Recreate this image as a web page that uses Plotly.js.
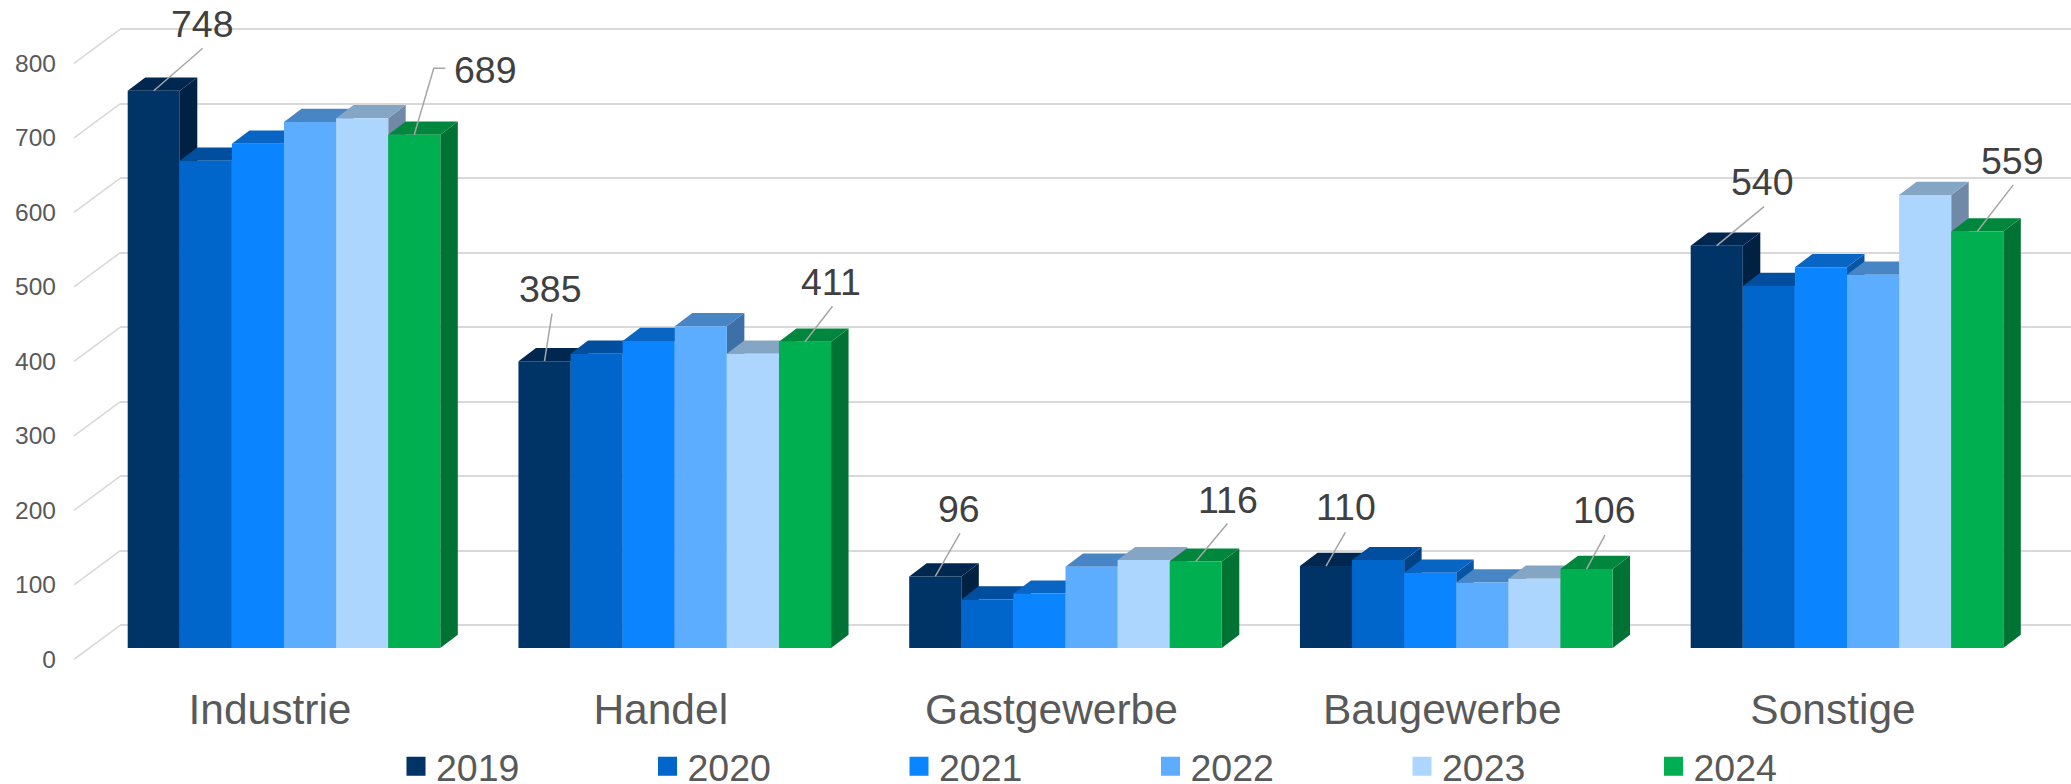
<!DOCTYPE html>
<html>
<head>
<meta charset="utf-8">
<script src="https://cdn.plot.ly/plotly-3.0.1.min.js"></script>
<style>html,body{margin:0;padding:0;background:#fff;overflow:hidden}</style>
</head>
<body>
<div id="chart" style="width:2071px;height:784px"></div>
<script>
// ---- data ----
const categories = ['Industrie', 'Handel', 'Gastgewerbe', 'Baugewerbe', 'Sonstige'];
const years = ['2019', '2020', '2021', '2022', '2023', '2024'];
const v2019 = [748, 385, 96, 110, 540];
const v2020 = [654, 395, 65, 118, 486];
const v2021 = [677, 412, 73, 101, 511];
const v2022 = [706, 432, 109, 88, 501];
const v2023 = [711, 395, 118, 93, 608];
const v2024 = [689, 411, 116, 106, 559];
const yTicks = [0, 100, 200, 300, 400, 500, 600, 700, 800];

// ---- colours per year ----
const frontColors = ['#003366', '#0066CC', '#0A84FF', '#5CADFF', '#ADD6FF', '#00B050'];
const topColors   = ['#002750', '#004E9D', '#0865C4', '#4785C4', '#85A5C4', '#00873D'];
const sideColors  = ['#002142', '#004285', '#0755A5', '#3C70A6', '#7089A6', '#007234'];
const gridColor = '#D9D9D9', textColor = '#595959', labelColor = '#404040', leaderColor = '#A6A6A6';
const fontFamily = '"Liberation Sans", Arial, sans-serif';

// ---- geometry of the pseudo-3D scene ----
const W = 2071, H = 784;
const pxPerUnit = 0.745, pxPerCat = 390.75;
const wallX = 120, floorX = 74;
const baseY = 648, wallBaseY = 625.3;
const firstCenterX = 284;
const depthPxX = 17.5, depthPxY = 13.2;
const depthX = depthPxX / pxPerCat, depthY = depthPxY / pxPerUnit;
const floorDy = 34 / pxPerUnit;
const barW = 0.8 / years.length;

const series = [v2019, v2020, v2021, v2022, v2023, v2024];

// data labels: [category index, year index, leader points (px offset from the bar top), text centre (px offset)]
const dataLabels = [
  [0, 0, [[49, 42.5]], [49, 67]],
  [0, 5, [[19.5, 66.5], [31, 66.5]], [71, 65]],
  [1, 0, [[7.5, 47.5]], [6, 72]],
  [1, 5, [[27.5, 35.5]], [26, 59.5]],
  [2, 0, [[24.7, 43]], [24, 67]],
  [2, 5, [[31.7, 38]], [32, 62]],
  [3, 0, [[19.3, 33.7]], [19.5, 58.7]],
  [3, 5, [[18.5, 34]], [17.5, 59]],
  [4, 0, [[47.3, 39]], [46, 63.4]],
  [4, 5, [[36, 46.7]], [35, 71]]
];

const xRange = [(wallX - firstCenterX) / pxPerCat, (W - firstCenterX) / pxPerCat];
const barRange = [(baseY - H) / pxPerUnit, baseY / pxPerUnit];
const gridRange = [(wallBaseY - H) / pxPerUnit, wallBaseY / pxPerUnit];

const traces = [];
years.forEach((yr, s) => {
  traces.push({
    type: 'bar', name: yr, x: categories, y: series[s],
    marker: {color: frontColors[s], line: {width: 0}},
    showlegend: false, hoverinfo: 'x+y+name'
  });
});
// legend entries with square keys
years.forEach((yr, s) => {
  traces.push({
    type: 'scatter', mode: 'markers', name: yr, x: [null], y: [null],
    marker: {symbol: 'square', size: 16, color: frontColors[s], line: {color: frontColors[s], width: 3}},
    showlegend: true, hoverinfo: 'skip'
  });
});

const shapes = [];
// wall-to-floor diagonals
yTicks.forEach(v => {
  shapes.push({
    type: 'line', layer: 'below', xref: 'paper', yref: 'y2',
    x0: floorX / W, x1: wallX / W, y0: v - floorDy, y1: v,
    line: {color: gridColor, width: 1.6}
  });
});
// depth faces, painted left to right behind the front plane
categories.forEach((c, i) => {
  years.forEach((yr, s) => {
    const x0 = i + (s - 3) * barW, x1 = x0 + barW, t = series[s][i];
    shapes.push({
      type: 'path', layer: 'between', xref: 'x', yref: 'y',
      path: `M${x1},0L${x1 + depthX},${depthY}L${x1 + depthX},${t + depthY}L${x1},${t}Z`,
      fillcolor: sideColors[s], line: {width: 0}
    });
    shapes.push({
      type: 'path', layer: 'between', xref: 'x', yref: 'y',
      path: `M${x0},${t}L${x0 + depthX},${t + depthY}L${x1 + depthX},${t + depthY}L${x1},${t}Z`,
      fillcolor: topColors[s], line: {width: 0}
    });
  });
});

// data labels with leader lines
const annotations = [];
dataLabels.forEach(([i, s, pts, txt]) => {
  const hx = i + (s - 2.5) * barW, hy = series[s][i];
  let path = `M${hx},${hy}`;
  pts.forEach(p => { path += `L${hx + p[0] / pxPerCat},${hy + p[1] / pxPerUnit}`; });
  shapes.push({type: 'path', layer: 'above', xref: 'x', yref: 'y', path, line: {color: leaderColor, width: 1.5}});
  annotations.push({
    xref: 'x', yref: 'y', x: hx, y: hy, xshift: txt[0], yshift: txt[1],
    text: String(hy), showarrow: false, xanchor: 'center', yanchor: 'middle',
    font: {family: fontFamily, size: 37.5, color: labelColor}
  });
});

const layout = {
  width: W, height: H,
  margin: {l: 0, r: 0, t: 0, b: 0, pad: 0, autoexpand: false},
  paper_bgcolor: '#ffffff', plot_bgcolor: 'rgba(0,0,0,0)',
  barmode: 'group', bargap: 0.2, bargroupgap: 0,
  font: {family: fontFamily, color: textColor},
  xaxis: {
    domain: [wallX / W, 1], range: xRange, type: 'category', categoryorder: 'array', categoryarray: categories,
    anchor: 'free', position: (H - 680) / H,
    showgrid: false, zeroline: false, showline: false, ticks: '', ticklen: 0,
    tickfont: {family: fontFamily, size: 42.5, color: textColor},
    ticklabelshift: -14, fixedrange: true, automargin: false
  },
  yaxis: {
    domain: [0, 1], range: barRange, showgrid: false, zeroline: false, showline: false,
    showticklabels: false, ticks: '', anchor: 'x', fixedrange: true, automargin: false
  },
  yaxis2: {
    domain: [0, 1], range: gridRange, overlaying: 'y', anchor: 'free', position: 56 / W, side: 'left',
    tickmode: 'array', tickvals: yTicks, ticktext: yTicks.map(String),
    showgrid: true, gridcolor: gridColor, gridwidth: 2, zeroline: false, showline: false, ticks: '',
    tickfont: {family: fontFamily, size: 24.5, color: textColor},
    ticklabelshift: 34, fixedrange: true, automargin: false
  },
  legend: {
    orientation: 'h', x: 396 / W, xanchor: 'left', y: -0.017, yanchor: 'bottom',
    font: {family: fontFamily, size: 37.5, color: textColor},
    entrywidth: 206.5, entrywidthmode: 'pixels', itemwidth: 30,
    bgcolor: 'rgba(0,0,0,0)', borderwidth: 0
  },
  shapes, annotations, showlegend: true, hovermode: 'closest'
};

// grid axis needs a trace so that it is drawn
traces.push({type: 'scatter', mode: 'none', x: [null], y: [null], yaxis: 'y2', showlegend: false, hoverinfo: 'skip'});

Plotly.newPlot('chart', traces, layout, {displayModeBar: false, responsive: false});
</script>
</body>
</html>
